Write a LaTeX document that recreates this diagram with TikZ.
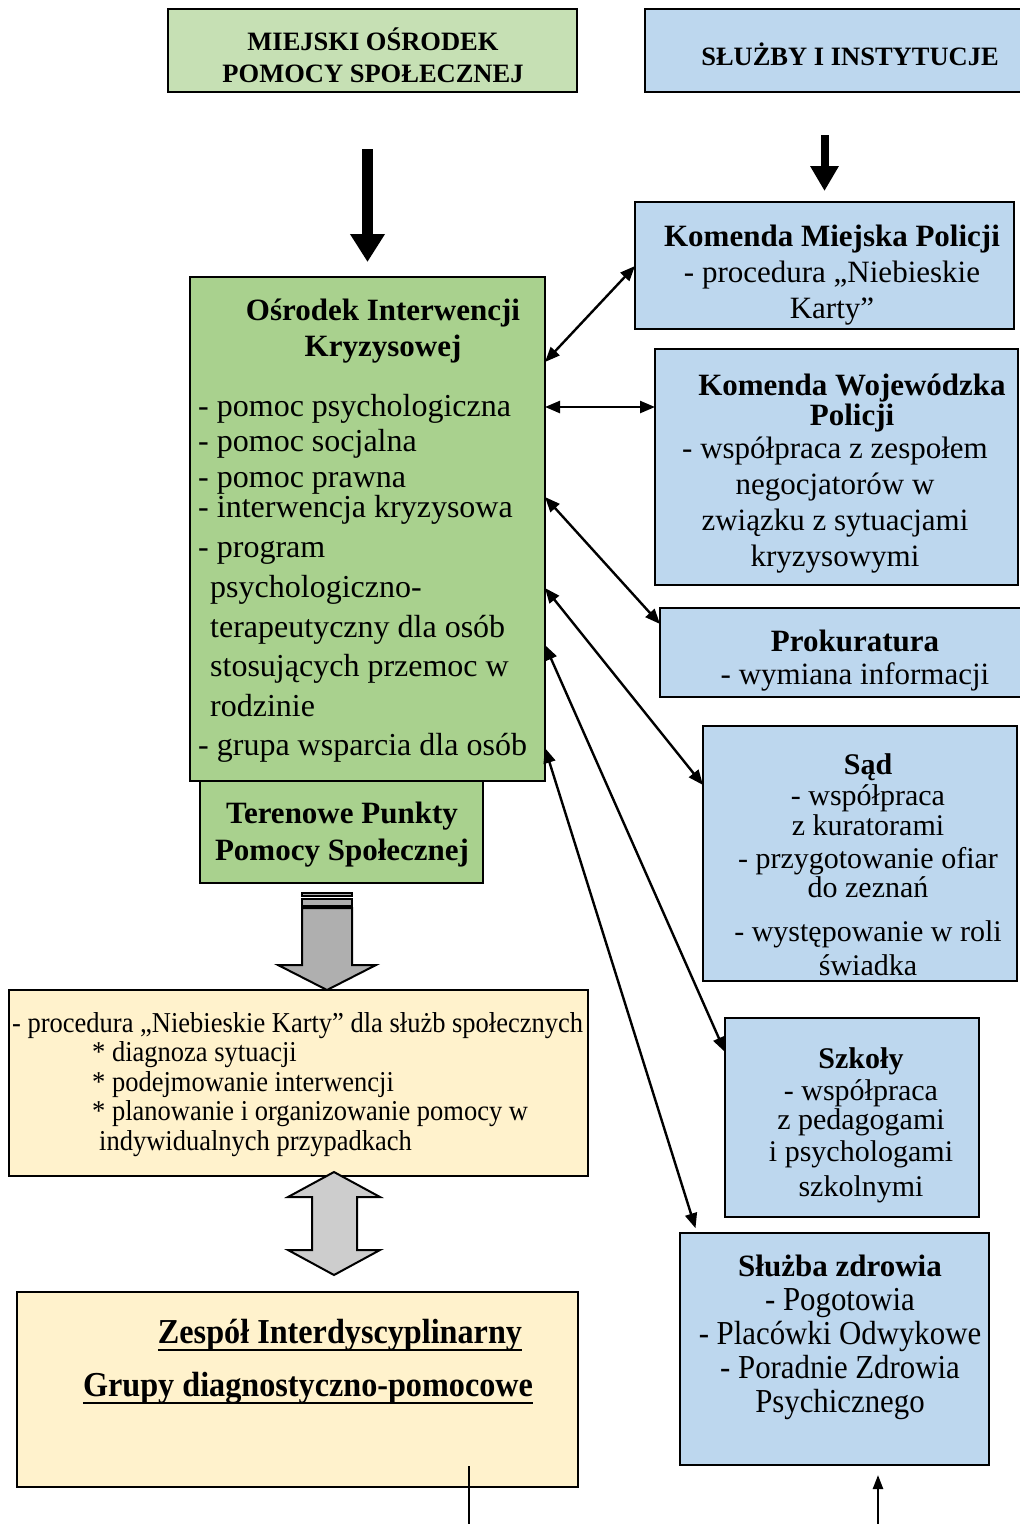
\documentclass[tikz,border=0pt]{standalone}
\usepackage{fontspec}
\setmainfont{Liberation Serif}
\newfontfamily\narrowserif[FakeStretch=0.92]{Liberation Serif}
\usetikzlibrary{arrows.meta}

\definecolor{mopsgreen}{RGB}{198,224,180}
\definecolor{oikgreen}{RGB}{169,209,142}
\definecolor{boxblue}{RGB}{189,215,238}
\definecolor{paleyellow}{RGB}{255,242,204}
\definecolor{arrowgrey}{RGB}{175,175,175}
\definecolor{lightgrey}{RGB}{205,205,205}

\tikzset{
  box/.style={draw, line width=2.8pt, anchor=north west, inner sep=0pt, outer sep=0pt},
  txt/.style={inner sep=0pt, align=center, anchor=base},
  link/.style={line width=2.4pt, {Triangle[length=15pt,width=12pt]}-{Triangle[length=15pt,width=12pt]}},
  bigarrow/.style={line width=11pt, -{Triangle[width=33pt,length=28pt]}},
  medarrow/.style={line width=8pt, -{Triangle[width=27pt,length=25pt]}},
  thinarrow/.style={line width=2.4pt, -{Triangle[length=14pt,width=10pt]}},
  blockarrow/.style={line width=2pt, line join=miter},
}

\begin{document}
\begin{tikzpicture}[x=1pt,y=-1pt]
\useasboundingbox (0,0) rectangle (1020,1524);

% top row (text nodes sit on their last baseline)
\node[box, fill=mopsgreen, minimum width=409pt, minimum height=83pt] (mops) at (168,9) {};
\node[txt, font=\fontsize{26.5}{32}\selectfont\bfseries] (mops-t) at (373,82) {MIEJSKI OŚRODEK\\POMOCY SPOŁECZNEJ};
\node[box, fill=boxblue, minimum width=380pt, minimum height=83pt] (sluzby) at (645,9) {};
\node[txt, font=\fontsize{26.5}{32}\selectfont\bfseries] (sluzby-t) at (850,65) {SŁUŻBY I INSTYTUCJE};

% left column
\node[box, fill=oikgreen, minimum width=355pt, minimum height=504pt] (oik) at (190,277) {};
\node[txt, font=\fontsize{31}{36}\selectfont\bfseries] (oik-t) at (383,356) {Ośrodek Interwencji\\Kryzysowej};
\node[txt, anchor=base west, align=left, font=\fontsize{32}{35}\selectfont] (oik-l) at (198,755)
  {- pomoc psychologiczna\\- pomoc socjalna\\[1pt]- pomoc prawna\\[-5pt]- interwencja kryzysowa\\[5pt]
   - program\\[5pt]\hspace*{12pt}psychologiczno-\\[5pt]\hspace*{12pt}terapeutyczny dla osób\\[4pt]
   \hspace*{12pt}stosujących przemoc w\\[5pt]\hspace*{12pt}rodzinie\\[4pt]- grupa wsparcia dla osób};
\node[box, fill=oikgreen, minimum width=283pt, minimum height=102pt] (teren) at (200,781) {};
\node[txt, font=\fontsize{31}{37}\selectfont\bfseries] (teren-t) at (342,860) {Terenowe Punkty\\Pomocy Społecznej};

\draw[bigarrow, shorten <=57pt, shorten >=15pt] (oik.north |- mops.south) -- (oik.north);

% grey block arrows
\filldraw[blockarrow, fill=arrowgrey] (302,893) rectangle (352,896);
\filldraw[blockarrow, fill=arrowgrey] (302,899) rectangle (352,906);
\filldraw[blockarrow, fill=arrowgrey] (302,908) -- (302,965) -- (278,965) -- (327,990) -- (376,965) -- (352,965) -- (352,908) -- cycle;

\node[box, fill=paleyellow, minimum width=579pt, minimum height=186pt] (proc) at (9,990) {};
\node[txt, anchor=base west, align=left, font=\narrowserif\fontsize{28.8}{29.5}\selectfont] (proc-t) at (12,1150)
  {- procedura „Niebieskie Karty” dla służb społecznych\\
   \hspace*{80pt}* diagnoza sytuacji\\
   \hspace*{80pt}* podejmowanie interwencji\\
   \hspace*{80pt}* planowanie i organizowanie pomocy w\\
   \hspace*{87pt}indywidualnych przypadkach};

\filldraw[blockarrow, fill=lightgrey] (334,1172) -- (380,1197) -- (357,1197) -- (357,1250) -- (380,1250) -- (334,1275)
  -- (288,1250) -- (312,1250) -- (312,1197) -- (288,1197) -- cycle;

\node[box, fill=paleyellow, minimum width=561pt, minimum height=195pt] (zesp) at (17,1292) {};
\node[txt, font=\narrowserif\fontsize{35}{35}\selectfont\bfseries] (zesp-a) at (340,1343) {Zespół Interdyscyplinarny};
\node[txt, font=\narrowserif\fontsize{35}{35}\selectfont\bfseries] (zesp-b) at (308,1396) {Grupy diagnostyczno-pomocowe};
\draw[line width=2pt] ([yshift=-7pt]zesp-a.base west) -- ([yshift=-7pt]zesp-a.base east);
\draw[line width=2pt] ([yshift=-7pt]zesp-b.base west) -- ([yshift=-7pt]zesp-b.base east);
\coordinate (zesp-in) at (469,1466);
\coordinate (zesp-end) at (469,1524);
\draw[line width=1.5pt] (zesp-in) -- (zesp-end);

% right column
\node[box, fill=boxblue, minimum width=379pt, minimum height=127pt] (kmp) at (635,202) {};
\node[txt, font=\fontsize{31}{36}\selectfont] (kmp-t) at (832,318)
  {\bfseries Komenda Miejska Policji\\- procedura „Niebieskie\\Karty”};
\draw[medarrow, shorten <=43pt, shorten >=11pt] (kmp.north |- sluzby.south) -- (kmp.north);

\node[box, fill=boxblue, minimum width=363pt, minimum height=236pt] (kwp) at (655,349) {};
\node[txt, font=\fontsize{31}{27}\selectfont\bfseries] (kwp-t) at (852,425) {Komenda Wojewódzka\\Policji};
\node[txt, font=\fontsize{31}{36}\selectfont] (kwp-l) at (835,566)
  {- współpraca z zespołem\\negocjatorów w\\związku z sytuacjami\\kryzysowymi};

\node[box, fill=boxblue, minimum width=364pt, minimum height=89pt] (prok) at (660,608) {};
\node[txt, font=\fontsize{31}{33}\selectfont] (prok-t) at (855,684) {\bfseries Prokuratura\\- wymiana informacji};

\node[box, fill=boxblue, minimum width=314pt, minimum height=255pt] (sad) at (703,726) {};
\node[txt, font=\fontsize{30}{31}\selectfont] (sad-t) at (868,975)
  {\bfseries Sąd\\- współpraca\\[-1pt]z kuratorami\\[2pt]- przygotowanie ofiar\\[-2pt]do zeznań\\[13pt]
   - występowanie w roli\\[3pt]świadka};

\node[box, fill=boxblue, minimum width=254pt, minimum height=199pt] (szkoly) at (725,1018) {};
\node[txt, font=\fontsize{30}{32}\selectfont] (szkoly-t) at (861,1196)
  {\bfseries Szkoły\\- współpraca\\[-3pt]z pedagogami\\i psychologami\\[3pt]szkolnymi};

\node[box, fill=boxblue, minimum width=309pt, minimum height=232pt] (zdrowie) at (680,1233) {};
\node[txt, font=\narrowserif\fontsize{33.5}{34}\selectfont] (zdrowie-t) at (840,1412)
  {{\rmfamily\fontsize{31}{34}\selectfont\bfseries Służba zdrowia}\\- Pogotowia\\- Placówki Odwykowe\\- Poradnie Zdrowia\\Psychicznego};
\coordinate (zdrowie-in) at (878,1524);
\draw[thinarrow, shorten >=10pt] (zdrowie-in) -- (zdrowie-in |- zdrowie.south);

% links to the services
\draw[link] ([yshift=-85pt]oik.north east) -- ([yshift=-64pt]kmp.north west);
\draw[link] ([yshift=-130pt]oik.north east) -- ([yshift=-58pt]kwp.north west);
\draw[link] ([yshift=-220pt]oik.north east) -- ([yshift=-16pt]prok.north west);
\draw[link] ([yshift=-311pt]oik.north east) -- ([yshift=-59pt]sad.north west);
\draw[link] ([yshift=-368pt]oik.north east) -- ([yshift=-34pt]szkoly.north west);
\draw[link, shorten >=5pt] ([yshift=-471pt]oik.north east) -- ([xshift=17pt]zdrowie.north west);
\end{tikzpicture}
\end{document}
